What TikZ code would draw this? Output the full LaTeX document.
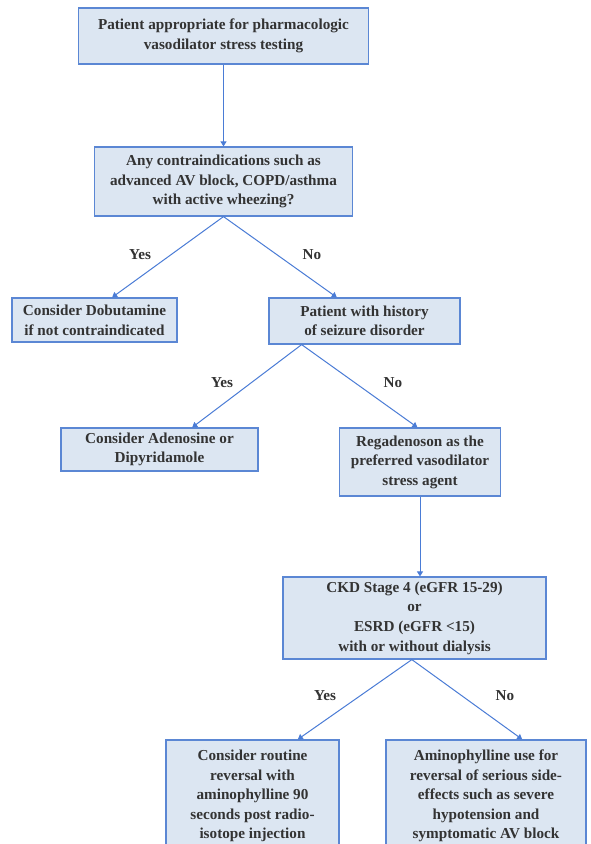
\documentclass[tikz,border=0pt]{standalone}
\usepackage{fontspec}
\setmainfont{Liberation Serif}
\usetikzlibrary{arrows.meta,calc}
\definecolor{boxfill}{HTML}{DCE6F2}
\definecolor{boxline}{HTML}{5B87D4}
\definecolor{linkline}{HTML}{4A7CD6}
\definecolor{textgray}{HTML}{333333}
\begin{document}
\begin{tikzpicture}[x=1pt, y=-1pt,
	box/.style={draw=boxline, fill=boxfill, line width=1.2pt, align=center, text=textgray, inner sep=0pt, font=\fontsize{15.2}{19.6}\selectfont\bfseries},
	link/.style={draw=linkline, line width=1pt, -{Triangle[length=5pt, width=6pt]}},
	answer/.style={text=textgray, font=\fontsize{15.2}{19.6}\selectfont\bfseries}]
		\clip (0, 0) rectangle (590, 844);
		\fill[white] (0, 0) rectangle (590, 844);

		\node[box, minimum width=290, minimum height=56] (start) at (223.5, 36) {Patient appropriate for pharmacologic\\vasodilator stress testing};
		\node[box, minimum width=258, minimum height=69] (contra) at (223.5, 181.5) {Any contraindications such as\\advanced AV block, COPD/asthma\\with active wheezing?};
		\node[box, minimum width=165, minimum height=44] (dobu) at (94.5, 320) {Consider Dobutamine\\if not contraindicated};
		\node[box, minimum width=191, minimum height=46] (seizure) at (364.5, 321) {Patient with history\\of seizure disorder};
		\node[box, minimum width=197, minimum height=43] (adeno) at (159.5, 449.5) {Consider Adenosine or\\Dipyridamole};
		\node[box, minimum width=161, minimum height=68] (regad) at (420, 462) {Regadenoson as the\\preferred vasodilator\\stress agent};
		\node[box, minimum width=263, minimum height=82] (ckd) at (414.5, 618) {CKD Stage 4 (eGFR 15-29)\\or\\ESRD (eGFR <15)\\with or without dialysis};
		\node[box, minimum width=173, minimum height=112] (routine) at (252.5, 796) {Consider routine\\reversal with\\aminophylline 90\\seconds post radio-\\isotope injection};
		\node[box, minimum width=200, minimum height=112] (amino) at (486, 796) {Aminophylline use for\\reversal of serious side-\\effects such as severe\\hypotension and\\symptomatic AV block};

		\node[answer] (yes1) at (140, 255) {Yes};
		\node[answer] (no1) at (312, 255) {No};
		\node[answer] (yes2) at (222, 383) {Yes};
		\node[answer] (no2) at (393, 383) {No};
		\node[answer] (yes3) at (325, 696) {Yes};
		\node[answer] (no3) at (505, 696) {No};

		\draw[link] (start.south) -- (contra.north);
		\draw[link] (contra.south) -- ($(dobu.north west)!0.606!(dobu.north east)$);
		\draw[link] (contra.south) -- ($(seizure.north west)!0.356!(seizure.north east)$);
		\draw[link] ($(seizure.south west)!0.173!(seizure.south east)$) -- ($(adeno.north west)!0.665!(adeno.north east)$);
		\draw[link] ($(seizure.south west)!0.173!(seizure.south east)$) -- ($(regad.north west)!0.484!(regad.north east)$);
		\draw[link] (regad.south) -- (regad.south |- ckd.north);
		\draw[link] ($(ckd.south west)!0.49!(ckd.south east)$) -- ($(routine.north west)!0.76!(routine.north east)$);
		\draw[link] ($(ckd.south west)!0.49!(ckd.south east)$) -- ($(amino.north west)!0.68!(amino.north east)$);
	\end{tikzpicture}
\end{document}
